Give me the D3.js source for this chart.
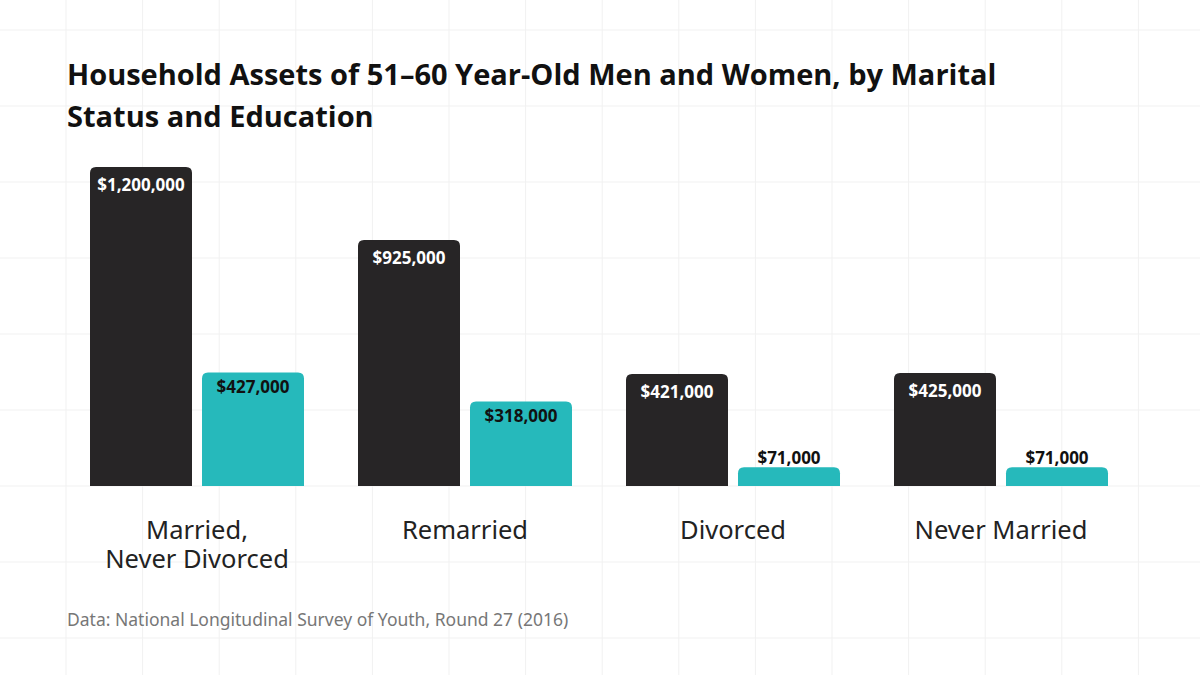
<!DOCTYPE html><html><head><meta charset="utf-8">
<script src="https://cdn.jsdelivr.net/npm/d3@7"></script>
<style>body{margin:0;background:#fff}</style></head><body><svg width="1200" height="675"></svg>
<script>
const categories=[["Married,","Never Divorced"],["Remarried"],["Divorced"],["Never Married"]];
const seriesA=[1200000,925000,421000,425000];
const seriesB=[427000,318000,71000,71000];
const colors=["#272526","#26b9bb"];
const svg=d3.select("svg");
const g0=svg.append("g");
for(let x=66;x<1200;x+=76.6)g0.append("line").attr("x1",x).attr("x2",x).attr("y1",0).attr("y2",675).attr("stroke","#f1f1f1");
for(let y=30;y<675;y+=76)g0.append("line").attr("y1",y).attr("y2",y).attr("x1",0).attr("x2",1200).attr("stroke","#f1f1f1");
const x0=d3.scaleBand().domain(d3.range(4)).range([90,1162]);
const y=d3.scaleLinear().domain([0,1200000]).range([486,167]);
const bw=102, gap=10, r=6;
function topRound(x,y0,w,h){return `M${x},${y0+h}V${y0+r}Q${x},${y0} ${x+r},${y0}H${x+w-r}Q${x+w},${y0} ${x+w},${y0+r}V${y0+h}Z`;}
const fmt=d3.format("$,");
[seriesA,seriesB].forEach((s,si)=>{
  s.forEach((v,i)=>{
    const bx=x0(i)+si*(bw+gap), by=y(v), h=y(0)-by;
    svg.append("path").attr("d",topRound(bx,by,bw,h)).attr("fill",colors[si]);
    const inside=h>40;
    svg.append("text").attr("x",bx+bw/2).attr("y",inside?by+(si==0?24:21):by-3).attr("text-anchor","middle")
      .attr("font-family","Open Sans, sans-serif").attr("font-weight","bold").attr("font-size",17)
      .attr("fill",si==0?"#fff":"#111").text(fmt(v));
  });
});
categories.forEach((c,i)=>{
  const t=svg.append("text").attr("text-anchor","middle").attr("font-family","Noto Sans, sans-serif").attr("font-size",25.5).attr("fill","#222");
  c.forEach((l,j)=>t.append("tspan").attr("x",x0(i)+bw+gap/2).attr("y",539+j*29).text(l));
});
const tt=svg.append("text").attr("font-family","Open Sans, sans-serif").attr("font-weight","bold").attr("font-size",29).attr("fill","#111");
["Household Assets of 51–60 Year-Old Men and Women, by Marital","Status and Education"].forEach((l,j)=>tt.append("tspan").attr("x",67).attr("y",85+j*42).text(l));
svg.append("text").attr("x",67).attr("y",626).attr("font-family","Noto Sans, sans-serif").attr("font-size",17.5).attr("fill","#777").text("Data: National Longitudinal Survey of Youth, Round 27 (2016)");
</script></body></html>
